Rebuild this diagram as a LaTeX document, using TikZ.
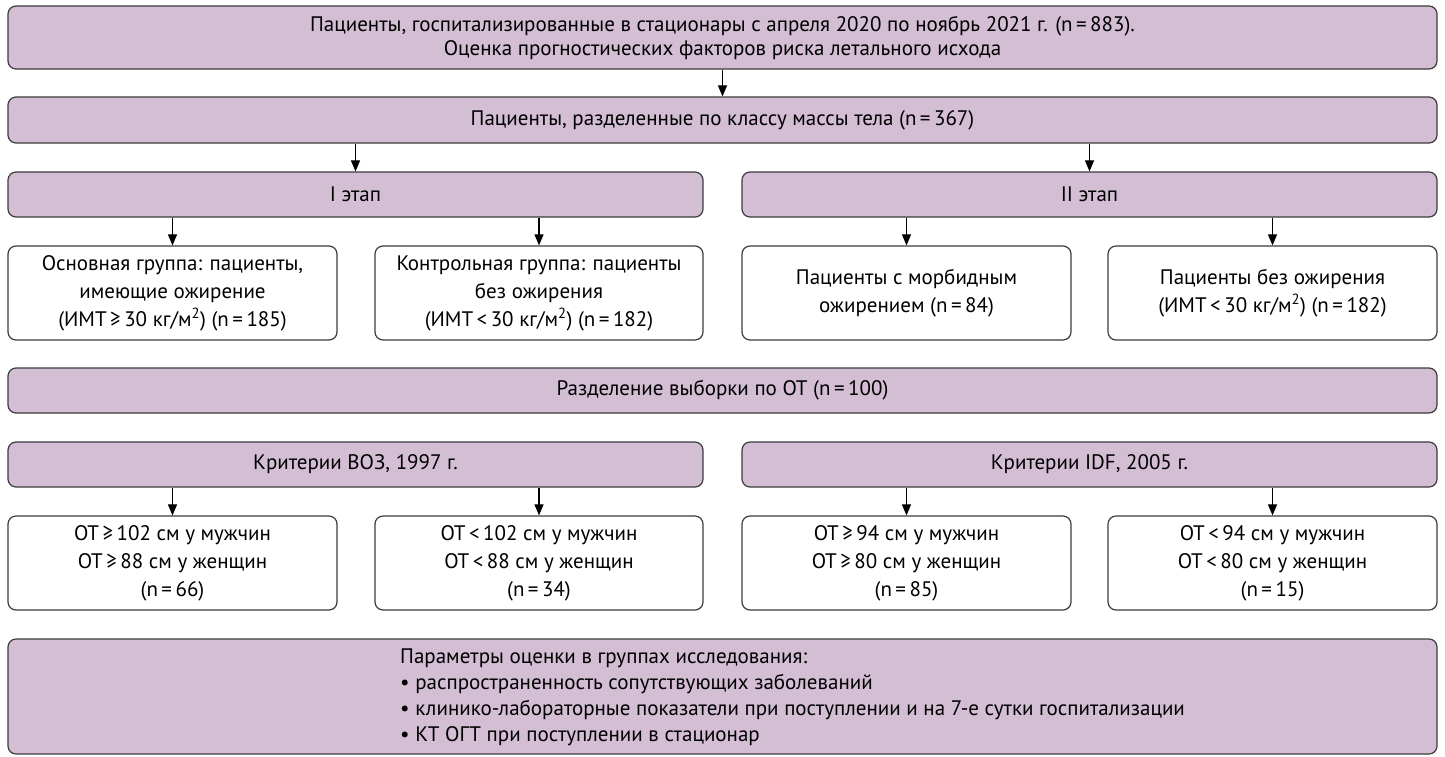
\documentclass[tikz,border=0pt]{standalone}
\usepackage{fontspec}
\setmainfont{PT Sans}
\usetikzlibrary{arrows.meta}
\definecolor{boxfill}{RGB}{211,190,212}
\definecolor{boxline}{RGB}{60,60,60}
\tikzset{
  base/.style={draw=boxline, line width=1.2pt, rounded corners=8pt, inner sep=0pt,
    font=\fontsize{21}{24}\selectfont, align=center},
  purplebox/.style={base, fill=boxfill},
  whitebox/.style={base, fill=white, font=\fontsize{21}{28}\selectfont},
  arr/.style={draw=black, line width=1.1pt, -{Triangle[length=11pt,width=9pt]}}
}
\newcommand{\eqs}{\,=\,}
\begin{document}
\begin{tikzpicture}[x=1pt,y=-1pt]
\useasboundingbox (0,0) rectangle (1445,756);
% row 1
\node[purplebox, minimum width=1429pt, minimum height=63pt] (b1) at (722.5,37.5)
  {Пациенты, госпитализированные в стационары с апреля 2020 по ноябрь 2021 г. (n\eqs883).\\
   Оценка прогностических факторов риска летального исхода};
\node[purplebox, minimum width=1429pt, minimum height=46pt] (b2) at (722.5,120)
  {Пациенты, разделенные по классу массы тела (n\eqs367)};
\node[purplebox, minimum width=695pt, minimum height=45pt] (s1) at (355.5,194.5) {I этап};
\node[purplebox, minimum width=695pt, minimum height=45pt] (s2) at (1089.5,194.5) {II этап};
\node[whitebox, minimum width=329pt, minimum height=94pt] (g1) at (172.5,293)
  {Основная группа: пациенты,\\имеющие ожирение\\(ИМТ\,≥\,30 кг/м\textsuperscript{2}) (n\eqs185)};
\node[whitebox, minimum width=328pt, minimum height=94pt] (g2) at (539,293)
  {Контрольная группа: пациенты\\без ожирения\\(ИМТ\,<\,30 кг/м\textsuperscript{2}) (n\eqs182)};
\node[whitebox, minimum width=329pt, minimum height=94pt] (g3) at (906.5,293)
  {Пациенты с морбидным\\ожирением (n\eqs84)};
\node[whitebox, minimum width=329pt, minimum height=94pt] (g4) at (1272.5,293)
  {Пациенты без ожирения\\(ИМТ\,<\,30 кг/м\textsuperscript{2}) (n\eqs182)};
% second part
\node[purplebox, minimum width=1429pt, minimum height=45pt] (b5) at (722.5,390.5)
  {Разделение выборки по ОТ (n\eqs100)};
\node[purplebox, minimum width=695pt, minimum height=45pt] (c1) at (355.5,464.5) {Критерии ВОЗ, 1997 г.};
\node[purplebox, minimum width=695pt, minimum height=45pt] (c2) at (1089.5,464.5) {Критерии IDF, 2005 г.};
\node[whitebox, minimum width=329pt, minimum height=94pt] (o1) at (172.5,563)
  {ОТ\,≥\,102 см у мужчин\\ОТ\,≥\,88 см у женщин\\(n\eqs66)};
\node[whitebox, minimum width=328pt, minimum height=94pt] (o2) at (539,563)
  {ОТ\,<\,102 см у мужчин\\ОТ\,<\,88 см у женщин\\(n\eqs34)};
\node[whitebox, minimum width=329pt, minimum height=94pt] (o3) at (906.5,563)
  {ОТ\,≥\,94 см у мужчин\\ОТ\,≥\,80 см у женщин\\(n\eqs85)};
\node[whitebox, minimum width=329pt, minimum height=94pt] (o4) at (1272.5,563)
  {ОТ\,<\,94 см у мужчин\\ОТ\,<\,80 см у женщин\\(n\eqs15)};
\node[purplebox, minimum width=1429pt, minimum height=115pt] (b8) at (722.5,696.5) {};
\node[font=\fontsize{21}{26}\selectfont, align=left, anchor=west, inner sep=0pt] (b8t) at (400,697)
  {Параметры оценки в группах исследования:\\
   • распространенность сопутствующих заболеваний\\
   • клинико-лабораторные показатели при поступлении и на 7-е сутки госпитализации\\
   • КТ ОГТ при поступлении в стационар};
% arrows
\draw[arr] (b1.south) -- (b2.north);
\draw[arr] (s1.north |- b2.south) -- (s1.north);
\draw[arr] (s2.north |- b2.south) -- (s2.north);
\draw[arr] (g1.north |- s1.south) -- (g1.north);
\draw[arr] (g2.north |- s1.south) -- (g2.north);
\draw[arr] (g3.north |- s2.south) -- (g3.north);
\draw[arr] (g4.north |- s2.south) -- (g4.north);
\draw[arr] (o1.north |- c1.south) -- (o1.north);
\draw[arr] (o2.north |- c1.south) -- (o2.north);
\draw[arr] (o3.north |- c2.south) -- (o3.north);
\draw[arr] (o4.north |- c2.south) -- (o4.north);
\end{tikzpicture}
\end{document}
